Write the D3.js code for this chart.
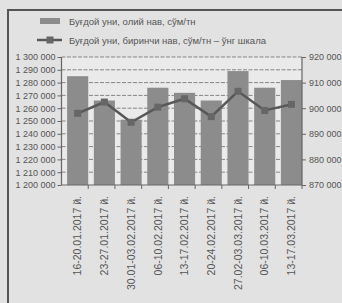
<!DOCTYPE html>
<html>
<head>
<meta charset="utf-8">
<script src="https://cdn.jsdelivr.net/npm/d3@7"></script>
<style>
  body { margin: 0; background: #e2e2e2; }
  svg { display: block; font-family: "Liberation Sans", Arial, sans-serif; }
</style>
</head>
<body>
<div class="graph"></div>
<script>
/*--------------- DATA -------------*/
const weeks = ["16-20.01.2017 й.", "23-27.01.2017 й.", "30.01-03.02.2017 й.", "06-10.02.2017 й.",
    "13-17.02.2017 й.", "20-24.02.2017 й.", "27.02-03.03.2017 й.", "06-10.03.2017 й.", "13-17.03.2017 й."];
const topGrade = [1285000, 1266000, 1251000, 1276000, 1272000, 1266000, 1289000, 1276000, 1282000];
const firstGrade = [898000, 902400, 894500, 900400, 903700, 896700, 906600, 899100, 901500];
const leftTicks = d3.range(1200000, 1300001, 10000);
const rightTicks = d3.range(870000, 920001, 10000);
const legendNames = ["Буғдой уни, олий нав, сўм/тн", "Буғдой уни, биринчи нав, сўм/тн – ўнг шкала"];

//define dimensions
const SIZE = {X: 342, Y: 303};
const PLOT = {LEFT: 61.5, RIGHT: 302, TOP: 57, BOTTOM: 185};

const fmt = v => d3.format(",")(v).replace(/,/g, " ");

const svg = d3.select(".graph").append("svg")
    .attr("width", SIZE.X)
    .attr("height", SIZE.Y);

//frame of the figure
svg.append("path")
    .attr("d", `M8,${SIZE.Y} V10 H${SIZE.X}`)
    .attr("fill", "none")
    .attr("stroke", "#555")
    .attr("stroke-width", 2);

//plot background
svg.append("rect")
    .attr("x", PLOT.LEFT).attr("y", PLOT.TOP)
    .attr("width", PLOT.RIGHT - PLOT.LEFT).attr("height", PLOT.BOTTOM - PLOT.TOP)
    .attr("fill", "#eaeaea");

//define scales
const x = d3.scaleBand()
    .domain(weeks)
    .range([PLOT.LEFT, PLOT.RIGHT])
    .paddingInner(0.21)
    .paddingOuter(0.105)
    .align(1);

const yL = d3.scaleLinear().domain([1200000, 1300000]).range([PLOT.BOTTOM, PLOT.TOP]);
const yR = d3.scaleLinear().domain([870000, 920000]).range([PLOT.BOTTOM, PLOT.TOP]);

//gridlines
svg.append("g")
    .selectAll("line")
    .data(leftTicks.slice(1))
    .join("line")
    .attr("x1", PLOT.LEFT).attr("x2", PLOT.RIGHT)
    .attr("y1", d => yL(d)).attr("y2", d => yL(d))
    .attr("stroke", "#858585")
    .attr("stroke-dasharray", "4,1.5");

//bars
svg.append("g")
    .selectAll("rect")
    .data(topGrade)
    .join("rect")
    .attr("x", (d, i) => x(weeks[i]))
    .attr("y", d => yL(d))
    .attr("width", x.bandwidth())
    .attr("height", d => yL(1200000) - yL(d))
    .attr("fill", "#8c8c8c");

//axes
const leftAxis = svg.append("g")
    .attr("transform", `translate(${PLOT.LEFT},0)`)
    .call(d3.axisLeft(yL).tickValues(leftTicks).tickFormat(fmt).tickSize(4).tickPadding(2));

const rightAxis = svg.append("g")
    .attr("transform", `translate(${PLOT.RIGHT},0)`)
    .call(d3.axisRight(yR).tickValues(rightTicks).tickFormat(fmt).tickSize(4).tickPadding(3));

const step = x.step();
const bottomAxis = svg.append("g")
    .attr("transform", `translate(0,${PLOT.BOTTOM})`)
    .call(d3.axisBottom(x).tickSize(0).tickPadding(0));

[leftAxis, rightAxis, bottomAxis].forEach(a => {
    a.select(".domain").attr("stroke", "#666").attr("stroke-width", 1.2);
    a.selectAll(".tick line").attr("stroke", "#666");
    a.selectAll("text").attr("fill", "#555").style("font-size", "9px");
});
leftAxis.select(".domain").attr("d", `M0,${PLOT.TOP}V${PLOT.BOTTOM}`);
rightAxis.select(".domain").attr("d", `M0,${PLOT.TOP}V${PLOT.BOTTOM}`);
bottomAxis.select(".domain").attr("d", `M${PLOT.LEFT},0H${PLOT.RIGHT}`);

//category boundary ticks on the x axis
bottomAxis.append("g")
    .selectAll("line")
    .data(weeks)
    .join("line")
    .attr("x1", d => x(d) + x.bandwidth()).attr("x2", d => x(d) + x.bandwidth())
    .attr("y1", 0).attr("y2", 4)
    .attr("stroke", "#666");

bottomAxis.selectAll(".tick text")
    .attr("transform", "rotate(-90)")
    .attr("text-anchor", "end")
    .attr("x", -11)
    .attr("y", 0)
    .attr("dy", "0.35em")
    .style("font-size", "10.5px");

//line for first grade
const line = d3.line()
    .x((d, i) => x(weeks[i]) + x.bandwidth() / 2)
    .y(d => yR(d));

svg.append("path")
    .datum(firstGrade)
    .attr("d", line)
    .attr("fill", "none")
    .attr("stroke", "#585858")
    .attr("stroke-width", 2.5);

svg.append("g")
    .selectAll("rect")
    .data(firstGrade)
    .join("rect")
    .attr("x", (d, i) => x(weeks[i]) + x.bandwidth() / 2 - 3.5)
    .attr("y", d => yR(d) - 3.5)
    .attr("width", 7).attr("height", 7)
    .attr("fill", "#666");

//legend
const legend = svg.append("g");
legend.append("rect")
    .attr("x", 40).attr("y", 18).attr("width", 20).attr("height", 6)
    .attr("fill", "#8c8c8c");
legend.append("line")
    .attr("x1", 37).attr("x2", 62).attr("y1", 40).attr("y2", 40)
    .attr("stroke", "#585858").attr("stroke-width", 2.5);
legend.append("rect")
    .attr("x", 46.5).attr("y", 36.5).attr("width", 7).attr("height", 7)
    .attr("fill", "#666");
legend.selectAll("text")
    .data(legendNames)
    .join("text")
    .attr("x", 69)
    .attr("y", (d, i) => 24.5 + i * 19)
    .attr("fill", "#555")
    .style("font-size", "9.5px")
    .text(d => d);
</script>
</body>
</html>
